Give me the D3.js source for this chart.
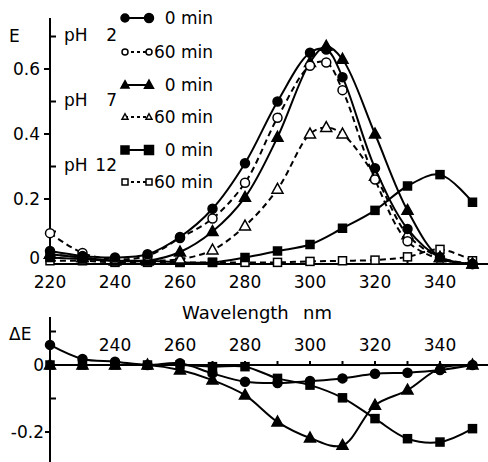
<!DOCTYPE html>
<html>
<head>
<meta charset="utf-8">
<script src="https://cdn.jsdelivr.net/npm/d3@7"></script>
<style>
  body { margin: 0; background: #fff; }
  text { font-family: "DejaVu Sans", sans-serif; fill: #000; }
</style>
</head>
<body>
<div id="chart"></div>
<script>
// wavelengths of the measured points (nm)
var waveTop = [220, 230, 240, 250, 260, 270, 280, 290, 300, 305, 310, 320, 330, 340, 350];
var waveDiff = [220, 230, 240, 250, 260, 270, 280, 290, 300, 310, 320, 330, 340, 350];

// extinction E, top panel
var ph2_0 = [0.04, 0.025, 0.02, 0.03, 0.083, 0.17, 0.31, 0.50, 0.65, 0.66, 0.575, 0.295, 0.108, 0.02, 0.0];
var ph2_60 = [0.095, 0.034, 0.015, 0.025, 0.08, 0.14, 0.25, 0.45, 0.61, 0.62, 0.535, 0.26, 0.07, 0.015, 0.0];
var ph7_0 = [0.03, 0.02, 0.01, 0.01, 0.037, 0.10, 0.205, 0.39, 0.62, 0.67, 0.63, 0.40, 0.165, 0.02, 0.0];
var ph7_60 = [0.03, 0.02, 0.01, 0.01, 0.015, 0.043, 0.117, 0.23, 0.40, 0.42, 0.40, 0.27, 0.09, 0.02, 0.0];
var ph12_0 = [0.02, 0.015, 0.01, 0.01, 0.005, 0.005, 0.02, 0.04, 0.06, null, 0.11, 0.165, 0.24, 0.275, 0.19];
var ph12_60 = [0.01, 0.01, 0.005, 0.005, 0.005, 0.005, 0.005, 0.005, 0.008, null, 0.01, 0.012, 0.022, 0.045, 0.01];

// difference ΔE (60 min - 0 min), bottom panel
var diff2 = [0.06, 0.018, 0.01, 0.0, 0.005, -0.025, -0.05, -0.054, -0.048, -0.04, -0.026, -0.023, -0.015, 0.0];
var diff7 = [0, 0, 0, 0, -0.015, -0.045, -0.09, -0.17, -0.218, -0.24, -0.12, -0.075, -0.01, 0.0];
var diff12 = [0, 0, 0, 0, 0, -0.005, -0.005, -0.04, -0.06, -0.098, -0.16, -0.22, -0.23, -0.19];

var xTicks = [220, 240, 260, 280, 300, 320, 340];
var xTicksDiff = [240, 260, 280, 300, 320, 340];

var svg = d3.select("#chart").append("svg")
  .attr("width", 488)
  .attr("height", 462);

var x = d3.scaleLinear().domain([220, 350]).range([50, 472.5]);
var yTop = d3.scaleLinear().domain([0, 0.7]).range([264, 36.5]);
var yBot = d3.scaleLinear().domain([-0.2, 0]).range([432, 365]);

function pairs(xs, ys) {
  return xs.map((w, i) => ({ w: w, v: ys[i] })).filter(d => d.v != null);
}

function drawMarker(g, shape, filled, cx, cy, size) {
  var fill = filled ? "#000" : "#fff";
  if (shape === "circle") {
    g.append("circle").attr("cx", cx).attr("cy", cy).attr("r", size / 2)
      .attr("fill", fill).attr("stroke", "#000").attr("stroke-width", 1.5);
  } else if (shape === "square") {
    g.append("rect").attr("x", cx - size / 2).attr("y", cy - size / 2)
      .attr("width", size).attr("height", size)
      .attr("fill", fill).attr("stroke", "#000").attr("stroke-width", 1.5);
  } else {
    var h = size * 0.9;
    g.append("path")
      .attr("d", `M${cx},${cy - h * 0.6}L${cx + size / 2},${cy + h * 0.4}L${cx - size / 2},${cy + h * 0.4}Z`)
      .attr("fill", fill).attr("stroke", "#000").attr("stroke-width", 1.5);
  }
}

function drawSeries(xs, ys, yScale, shape, filled, dashed, size) {
  var data = pairs(xs, ys);
  var line = d3.line()
    .x(d => x(d.w))
    .y(d => yScale(d.v))
    .curve(d3.curveCatmullRom.alpha(0.5));
  svg.append("path")
    .datum(data)
    .attr("d", line)
    .attr("fill", "none")
    .attr("stroke", "#000")
    .attr("stroke-width", 2)
    .attr("stroke-dasharray", dashed ? "6,4" : null);
  var g = svg.append("g");
  data.forEach(d => drawMarker(g, shape, filled, x(d.w), yScale(d.v), size));
}

// ---- top panel axes
var topAxis = svg.append("g").attr("stroke", "#000").attr("stroke-width", 2);
topAxis.append("line").attr("x1", 50).attr("x2", 50).attr("y1", 18).attr("y2", 265);
topAxis.append("line").attr("x1", 49).attr("x2", 488).attr("y1", yTop(0)).attr("y2", yTop(0));
[0.1, 0.3, 0.5, 0.7].forEach(v => {
  topAxis.append("line").attr("x1", 50).attr("x2", 56).attr("y1", yTop(v)).attr("y2", yTop(v));
});
[0.2, 0.4, 0.6].forEach(v => {
  topAxis.append("line").attr("x1", 44).attr("x2", 50).attr("y1", yTop(v)).attr("y2", yTop(v));
});
d3.range(230, 351, 10).forEach(w => {
  topAxis.append("line").attr("x1", x(w)).attr("x2", x(w)).attr("y1", yTop(0)).attr("y2", yTop(0) - 4);
});

svg.append("g").selectAll("text")
  .data([0, 0.2, 0.4, 0.6])
  .enter().append("text")
  .attr("x", 40)
  .attr("y", d => d === 0 ? yTop(d) : yTop(d) + 6)
  .attr("text-anchor", "end")
  .attr("font-size", 17)
  .text(d => d === 0 ? "0" : d3.format(".1f")(d));

svg.append("text").attr("x", 9).attr("y", 42).attr("font-size", 17).text("E");

svg.append("g").selectAll("text")
  .data(xTicks)
  .enter().append("text")
  .attr("x", d => x(d))
  .attr("y", 288)
  .attr("text-anchor", "middle")
  .attr("font-size", 17)
  .text(d => d);

svg.append("text").attr("x", 182).attr("y", 319).attr("font-size", 18).text("Wavelength");
svg.append("text").attr("x", 303).attr("y", 319).attr("font-size", 18).text("nm");

// ---- top panel series
drawSeries(waveTop, ph12_60, yTop, "square", false, true, 8);
drawSeries(waveTop, ph12_0, yTop, "square", true, false, 8);
drawSeries(waveTop, ph7_60, yTop, "triangle", false, true, 11);
drawSeries(waveTop, ph7_0, yTop, "triangle", true, false, 11);
drawSeries(waveTop, ph2_60, yTop, "circle", false, true, 9);
drawSeries(waveTop, ph2_0, yTop, "circle", true, false, 9);

// ---- legend
var phLabels = [["2", 41], ["7", 106], ["12", 171]];
phLabels.forEach(p => {
  svg.append("text").attr("x", 64).attr("y", p[1]).attr("font-size", 17).text("pH");
  svg.append("text").attr("x", 117).attr("y", p[1]).attr("text-anchor", "end")
    .attr("font-size", 17).text(p[0]);
});
var legendRows = [
  ["circle", true, false, "0 min", 18],
  ["circle", false, true, "60 min", 52],
  ["triangle", true, false, "0 min", 85],
  ["triangle", false, true, "60 min", 117],
  ["square", true, false, "0 min", 150],
  ["square", false, true, "60 min", 182]
];
var lg = svg.append("g");
legendRows.forEach(r => {
  lg.append("line").attr("x1", 125).attr("x2", 149).attr("y1", r[4]).attr("y2", r[4])
    .attr("stroke", "#000").attr("stroke-width", 2)
    .attr("stroke-dasharray", r[2] ? "3,3" : null);
  var s = r[1] ? 8 : 6;
  drawMarker(lg, r[0], r[1], 125, r[4], s);
  drawMarker(lg, r[0], r[1], 149, r[4], r[1] ? 9 : 6);
  lg.append("text").attr("x", 213).attr("y", r[4] + 6).attr("text-anchor", "end")
    .attr("font-size", 17).text(r[3]);
});

// ---- bottom panel axes
var botAxis = svg.append("g").attr("stroke", "#000").attr("stroke-width", 2);
botAxis.append("line").attr("x1", 50).attr("x2", 50).attr("y1", 317).attr("y2", 462);
botAxis.append("line").attr("x1", 50).attr("x2", 488).attr("y1", yBot(0)).attr("y2", yBot(0));
[0.1, -0.1].forEach(v => {
  botAxis.append("line").attr("x1", 50).attr("x2", 56).attr("y1", yBot(v)).attr("y2", yBot(v));
});
[-0.2].forEach(v => {
  botAxis.append("line").attr("x1", 45).attr("x2", 50).attr("y1", yBot(v)).attr("y2", yBot(v));
});
d3.range(230, 351, 10).forEach(w => {
  botAxis.append("line").attr("x1", x(w)).attr("x2", x(w)).attr("y1", yBot(0)).attr("y2", yBot(0) - 4);
});

svg.append("text").attr("x", 9).attr("y", 340).attr("font-size", 17).text("ΔE");
svg.append("text").attr("x", 44).attr("y", yBot(0) + 6).attr("text-anchor", "end").attr("font-size", 17).text("0");
svg.append("text").attr("x", 44).attr("y", yBot(-0.2) + 6).attr("text-anchor", "end").attr("font-size", 17).text("-0.2");

svg.append("g").selectAll("text")
  .data(xTicksDiff)
  .enter().append("text")
  .attr("x", d => x(d))
  .attr("y", 351)
  .attr("text-anchor", "middle")
  .attr("font-size", 17)
  .text(d => d);

// ---- bottom panel series
drawSeries(waveDiff, diff12, yBot, "square", true, false, 8);
drawSeries(waveDiff, diff7, yBot, "triangle", true, false, 11);
drawSeries(waveDiff, diff2, yBot, "circle", true, false, 9);
</script>
</body>
</html>
